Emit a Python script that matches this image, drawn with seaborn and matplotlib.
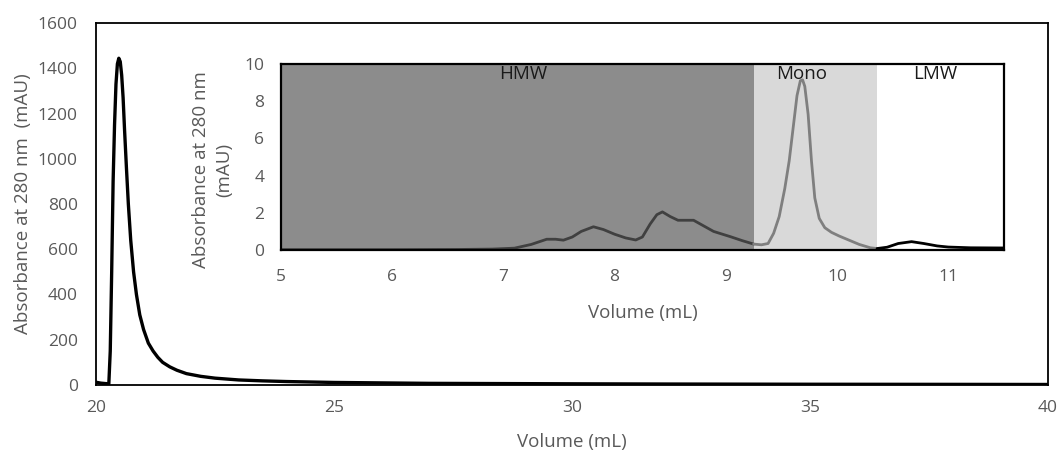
import numpy as np
import pandas as pd
import seaborn as sns
from matplotlib import pyplot as plt

# Основная хроматограмма (20-40 мл)
main_vol = [20.0, 20.1, 20.2, 20.27, 20.30, 20.33, 20.36, 20.39, 20.42, 20.45, 20.48, 20.51,
            20.54, 20.57, 20.60, 20.64, 20.68, 20.73, 20.79, 20.85, 20.92, 21.0, 21.1, 21.2,
            21.3, 21.4, 21.55, 21.7, 21.9, 22.2, 22.5, 23.0, 23.5, 24.0, 25.0, 26.0, 27.0,
            28.5, 30.0, 32.0, 35.0, 38.0, 40.0]
main_abs = [12, 8, 6, 5, 150, 500, 900, 1150, 1330, 1420, 1445, 1430,
            1370, 1270, 1130, 960, 800, 640, 500, 400, 310, 245, 185, 150,
            122, 100, 80, 65, 50, 38, 30, 22, 18, 15, 11, 9, 7,
            6, 5, 4, 3, 2.5, 2]

# Вставка (5-11.5 мл), по областям
hmw_vol = [5.0, 6.0, 6.6, 6.9, 7.1, 7.25, 7.39, 7.47, 7.54, 7.62, 7.7, 7.81, 7.9, 8.0,
           8.1, 8.19, 8.25, 8.32, 8.38, 8.43, 8.5, 8.57, 8.64, 8.71, 8.8, 8.89, 8.97,
           9.04, 9.15, 9.25]
hmw_abs = [0.02, 0.02, 0.03, 0.05, 0.1, 0.3, 0.58, 0.58, 0.53, 0.7, 1.0, 1.25, 1.1, 0.85,
           0.65, 0.54, 0.7, 1.4, 1.9, 2.05, 1.8, 1.6, 1.6, 1.6, 1.3, 1.0, 0.85,
           0.72, 0.5, 0.32]
mono_vol = [9.25, 9.32, 9.38, 9.43, 9.48, 9.53, 9.57, 9.61, 9.64, 9.67, 9.69, 9.71, 9.74,
            9.77, 9.80, 9.84, 9.89, 9.95, 10.02, 10.1, 10.2, 10.3, 10.36]
mono_abs = [0.32, 0.28, 0.35, 0.9, 1.8, 3.3, 4.8, 6.8, 8.3, 9.1, 9.15, 8.8, 7.3,
            4.8, 2.8, 1.7, 1.2, 0.95, 0.75, 0.55, 0.3, 0.12, 0.08]
lmw_vol = [10.36, 10.45, 10.55, 10.67, 10.78, 10.9, 11.0, 11.2, 11.5]
lmw_abs = [0.08, 0.15, 0.35, 0.45, 0.35, 0.22, 0.16, 0.12, 0.11]

regions = ['HMW', 'Mono', 'LMW']
region_edges = [5.0, 9.25, 10.36, 11.5]

sns.set_style('white')
plt.rcParams['font.family'] = ['Open Sans', 'DejaVu Sans']
grey_text = '#595959'
tick_fs = 12.5
label_fs = 13.5

fig = plt.figure(figsize=(10.64, 4.55), dpi=100)
ax = fig.add_axes([0.0902, 0.154, 0.8948, 0.795])

sns.lineplot(x=main_vol, y=main_abs, ax=ax, color='black', linewidth=2.4)
ax.set_xlim(20, 40)
ax.set_ylim(0, 1600)
ax.set_xticks([20, 25, 30, 35, 40])
ax.set_yticks(np.arange(0, 1601, 200))
ax.tick_params(axis='y', length=0, labelsize=tick_fs, colors=grey_text, pad=13)
ax.tick_params(axis='x', length=0, labelsize=tick_fs, colors=grey_text, pad=11)
ax.set_xlabel('Volume (mL)', fontsize=label_fs, color=grey_text, labelpad=12)
ax.set_ylabel('Absorbance at 280 nm  (mAU)', fontsize=label_fs, color=grey_text, labelpad=4)
for s in ax.spines.values():
    s.set_color('black')
    s.set_linewidth(1.3)

# Вставка
ins = fig.add_axes([0.264, 0.4505, 0.6795, 0.4088])
ins.axvspan(region_edges[0], region_edges[1], color='#8c8c8c', lw=0)
ins.axvspan(region_edges[1], region_edges[2], color='#d9d9d9', lw=0)
ins.axvspan(region_edges[2], region_edges[3], color='white', lw=0)

sns.lineplot(x=hmw_vol, y=hmw_abs, ax=ins, color='#404040', linewidth=2.0)
sns.lineplot(x=mono_vol, y=mono_abs, ax=ins, color='#7f7f7f', linewidth=2.0)
sns.lineplot(x=lmw_vol, y=lmw_abs, ax=ins, color='black', linewidth=2.0)

label_x = [7.18, 9.68, 10.88]
for name, lx in zip(regions, label_x):
    ins.text(lx, 9.95, name, ha='center', va='top', fontsize=label_fs, color='#1a1a1a')

ins.set_xlim(5, 11.5)
ins.set_ylim(0, 10)
ins.set_xticks([5, 6, 7, 8, 9, 10, 11])
ins.set_yticks([0, 2, 4, 6, 8, 10])
ins.tick_params(axis='y', length=0, labelsize=tick_fs, colors=grey_text, pad=12)
ins.tick_params(axis='x', length=0, labelsize=tick_fs, colors=grey_text, pad=14)
ins.set_xlabel('Volume (mL)', fontsize=label_fs, color=grey_text, labelpad=13)
ins.set_ylabel('Absorbance at 280 nm\n(mAU)', fontsize=label_fs, color=grey_text, labelpad=8,
               linespacing=1.35)
ins.yaxis.label.set_y(0.43)
for s in ins.spines.values():
    s.set_color('black')
    s.set_linewidth(1.6)

fig.savefig('out.png', dpi=100)
